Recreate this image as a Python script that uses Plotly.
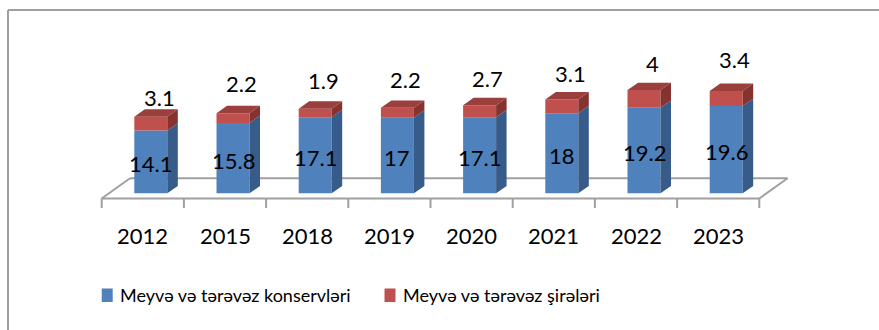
import plotly.graph_objects as go

# ---- data ----
years = ["2012", "2015", "2018", "2019", "2020", "2021", "2022", "2023"]
konserv = [14.1, 15.8, 17.1, 17.0, 17.1, 18.0, 19.2, 19.6]
shire = [3.1, 2.2, 1.9, 2.2, 2.7, 3.1, 4.0, 3.4]
series_names = ["Meyvə və tərəvəz konservləri", "Meyvə və tərəvəz şirələri"]

# ---- geometry of the oblique 3-D look ----
W, H = 879, 330
PX_PER_CAT = 82.2        # horizontal pixels per category
PX_PER_UNIT = 4.45       # vertical pixels per value unit
X0_PX = 142.8            # pixel position of the first category (front edge)
Y0_PX = 193.3            # pixel position of value 0 on the bar front plane

def ux(px):
    return px / PX_PER_CAT

def uy(px):
    return px / PX_PER_UNIT

def paper_x(px):
    return px / W

def paper_y(py):
    return 1 - py / H

x_range = [-X0_PX / PX_PER_CAT, (W - X0_PX) / PX_PER_CAT]
y_range = [-(H - Y0_PX) / PX_PER_UNIT, Y0_PX / PX_PER_UNIT]

bar_w = ux(33)           # bar front width
bar_shift = ux(8)        # bars sit a bit behind the floor's front edge
depth_dx, depth_dy = ux(10.5), uy(7.4)   # bar depth (oblique)
floor_front = -uy(5.2)
floor_dx, floor_dy = ux(28.3), uy(20.2)
tick_bottom = -uy(14.7)

BLUE, BLUE_SIDE = "#4F81BD", "#385C89"
RED, RED_TOP, RED_SIDE = "#C0504D", "#9B3F3C", "#86332F"
GRID = "#A0A0A0"
FONT = "Lato, 'Liberation Sans', Arial, sans-serif"

n = len(years)
xs = [i + bar_shift for i in range(n)]
totals = [a + b for a, b in zip(konserv, shire)]

fig = go.Figure()

# front faces
fig.add_trace(go.Bar(x=xs, y=konserv, width=bar_w, marker=dict(color=BLUE, line=dict(width=0)),
                     name=series_names[0], showlegend=False, hoverinfo="skip"))
fig.add_trace(go.Bar(x=xs, y=shire, base=konserv, width=bar_w,
                     marker=dict(color=RED, line=dict(width=0)),
                     name=series_names[1], showlegend=False, hoverinfo="skip"))

def side_poly(y0s, y1s):
    px, py = [], []
    for x, a, b in zip(xs, y0s, y1s):
        xr = x + bar_w / 2
        px += [xr, xr + depth_dx, xr + depth_dx, xr, xr, None]
        py += [a, a + depth_dy, b + depth_dy, b, a, None]
    return px, py

# side faces
sx, sy = side_poly([0] * n, konserv)
fig.add_trace(go.Scatter(x=sx, y=sy, fill="toself", fillcolor=BLUE_SIDE, mode="lines",
                         line=dict(width=0, color=BLUE_SIDE), showlegend=False, hoverinfo="skip"))
sx, sy = side_poly(konserv, totals)
fig.add_trace(go.Scatter(x=sx, y=sy, fill="toself", fillcolor=RED_SIDE, mode="lines",
                         line=dict(width=0, color=RED_SIDE), showlegend=False, hoverinfo="skip"))

# top faces
tx, ty = [], []
for x, t in zip(xs, totals):
    xl, xr = x - bar_w / 2, x + bar_w / 2
    tx += [xl, xr, xr + depth_dx, xl + depth_dx, xl, None]
    ty += [t, t, t + depth_dy, t + depth_dy, t, None]
fig.add_trace(go.Scatter(x=tx, y=ty, fill="toself", fillcolor=RED_TOP, mode="lines",
                         line=dict(width=0, color=RED_TOP), showlegend=False, hoverinfo="skip"))

shapes = []
# floor outline
fl, fr = -0.5, n - 0.5
floor_pts = [(fl, floor_front), (fr, floor_front), (fr + floor_dx, floor_front + floor_dy),
             (fl + floor_dx, floor_front + floor_dy), (fl, floor_front)]
for (a, b), (c, d) in zip(floor_pts[:-1], floor_pts[1:]):
    shapes.append(dict(type="line", xref="x", yref="y", x0=a, y0=b, x1=c, y1=d,
                       line=dict(color=GRID, width=2), layer="below"))
# category ticks
for k in range(n + 1):
    shapes.append(dict(type="line", xref="x", yref="y", x0=fl + k, x1=fl + k,
                       y0=floor_front, y1=tick_bottom, line=dict(color=GRID, width=2), layer="below"))
# outer frame
shapes.append(dict(type="line", xref="paper", yref="paper", x0=paper_x(8), x1=1.01,
                   y0=paper_y(10), y1=paper_y(10), line=dict(color=GRID, width=2)))
shapes.append(dict(type="line", xref="paper", yref="paper", x0=paper_x(8), x1=paper_x(8),
                   y0=paper_y(10), y1=-0.02, line=dict(color=GRID, width=2)))

# legend swatches
legend_items = [(101.7, 118, BLUE), (384.5, 401, RED)]
for (sw_x, _, col) in legend_items:
    shapes.append(dict(type="rect", xref="paper", yref="paper", x0=paper_x(sw_x), x1=paper_x(sw_x + 11),
                       y0=paper_y(302), y1=paper_y(288.5), fillcolor=col, line=dict(width=0)))

annotations = []
# category labels
for i, yr in enumerate(years):
    annotations.append(dict(x=i, y=-uy(235.8 - Y0_PX), text=yr, showarrow=False,
                            xanchor="center", yanchor="middle",
                            font=dict(family=FONT, size=22, color="#000000")))
# value labels
red_label_lift = [19, 30, 28, 28, 27, 26, 27, 31]
for i in range(n):
    annotations.append(dict(x=xs[i], y=konserv[i] / 2, text=f"{konserv[i]:g}", showarrow=False,
                            xanchor="center", yanchor="middle", yshift=-2,
                            font=dict(family=FONT, size=22, color="#000000")))
    annotations.append(dict(x=xs[i] + depth_dx / 2 + ux(3), y=totals[i], text=f"{shire[i]:g}",
                            showarrow=False, xanchor="center", yanchor="middle",
                            yshift=red_label_lift[i],
                            font=dict(family=FONT, size=22, color="#000000")))
# legend texts
for (_, tx_px, _), name in zip(legend_items, series_names):
    annotations.append(dict(xref="paper", yref="paper", x=paper_x(tx_px), y=paper_y(295),
                            text=name, showarrow=False, xanchor="left", yanchor="middle",
                            font=dict(family=FONT, size=18, color="#000000")))

fig.update_layout(
    width=W, height=H,
    margin=dict(l=0, r=0, t=0, b=0),
    paper_bgcolor="#FFFFFF", plot_bgcolor="#FFFFFF",
    barmode="overlay",
    showlegend=False,
    xaxis=dict(range=x_range, visible=False, fixedrange=True),
    yaxis=dict(range=y_range, visible=False, fixedrange=True),
    shapes=shapes,
    annotations=annotations,
)

fig.write_html("out.html")
